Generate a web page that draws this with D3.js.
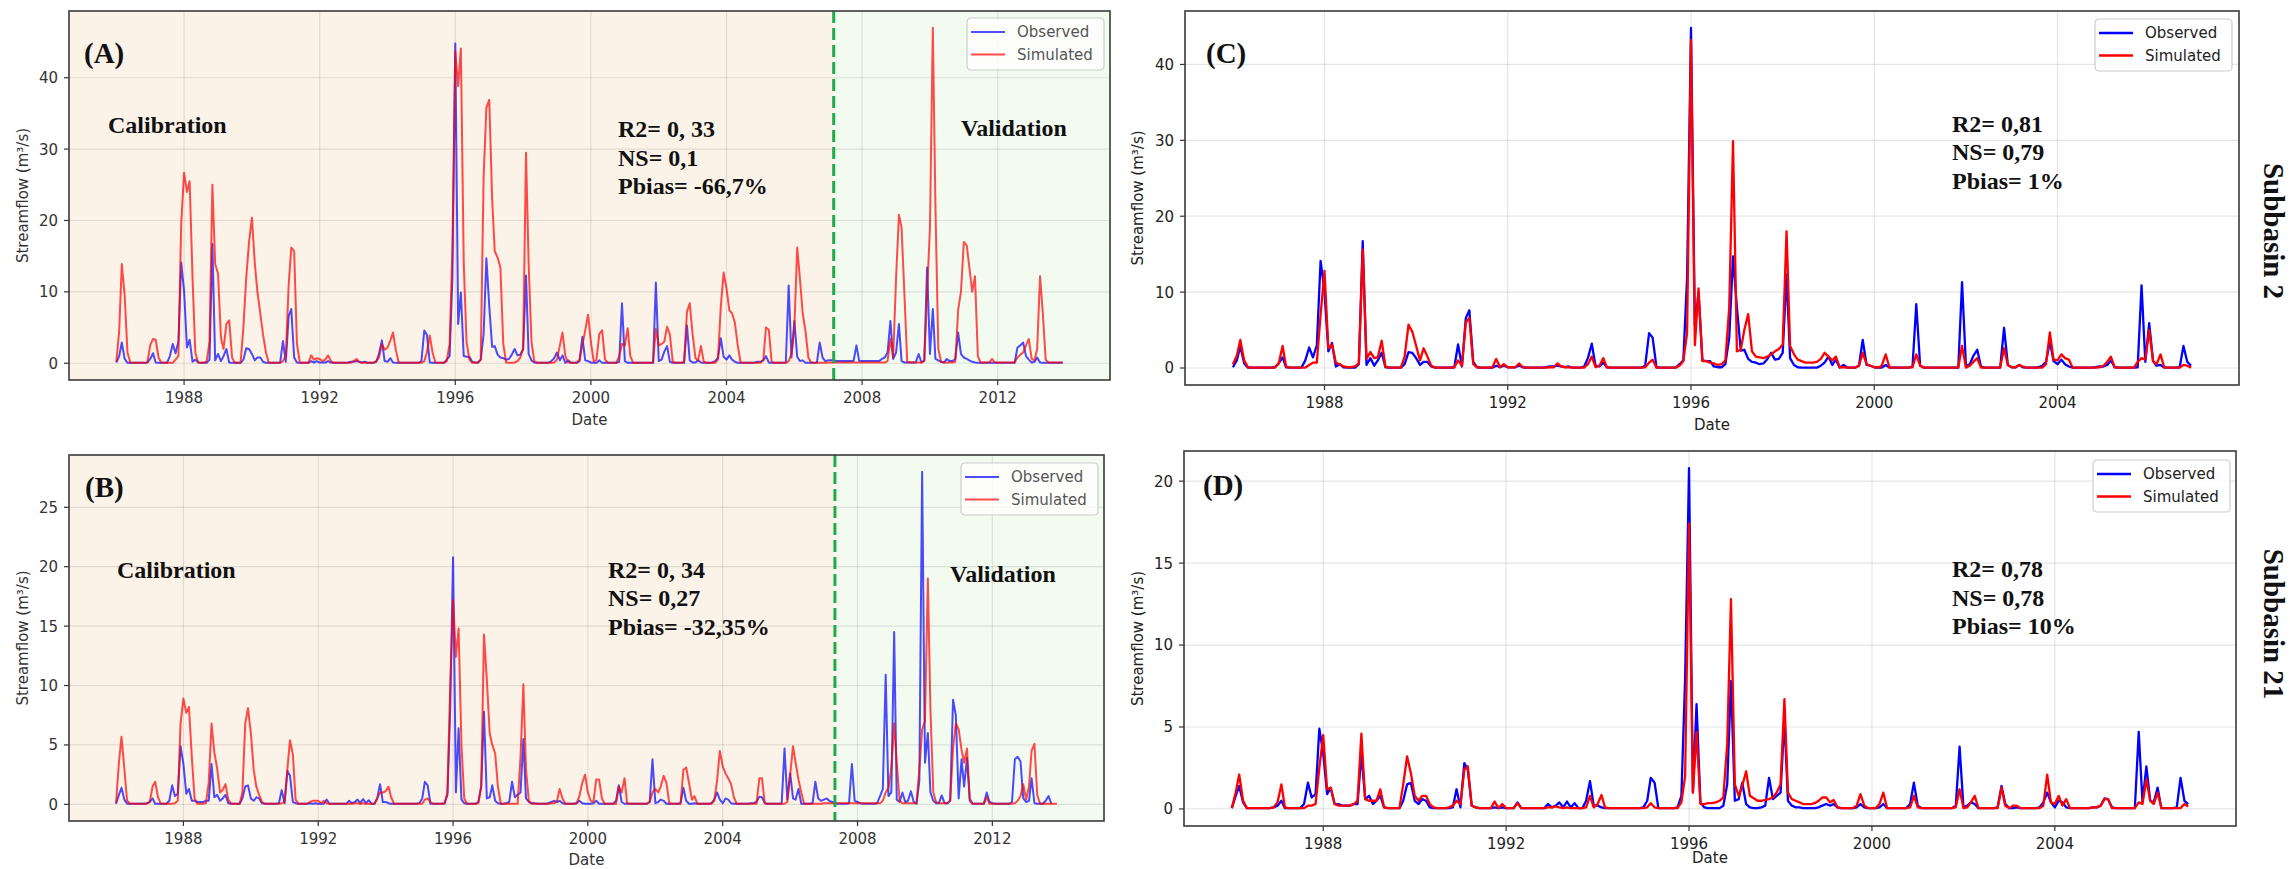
<!DOCTYPE html>
<html lang="en">
<head>
<meta charset="UTF-8">
<title>Observed vs simulated streamflow</title>
<script src="https://d3js.org/d3.v7.min.js"></script>
<style>
  body { margin: 0; background: #fff; }
  svg text { font-family: "DejaVu Sans", sans-serif; }
  .serif { font-family: "Liberation Serif", "Times New Roman", serif; font-weight: bold; }
</style>
</head>
<body>
<div id="chart"></div>
<script>
// monthly streamflow (m3/s) from Jan 1986, one row per year

// subbasin 2, observed, 1986-2013
const obs2 = [
  [0.1, 1.0, 2.9, 0.6, 0.05, 0.05, 0.05, 0.05, 0.05, 0.05, 0.05, 0.1],
  [0.6, 1.4, 0.1, 0.05, 0.05, 0.05, 0.05, 1.0, 2.7, 1.4, 3.0, 14.1],
  [10.1, 2.2, 3.3, 0.2, 0.5, 0.1, 0.05, 0.05, 0.05, 0.5, 16.7, 0.4],
  [1.3, 0.3, 1.0, 2.0, 0.1, 0.05, 0.05, 0.05, 0.05, 0.5, 2.1, 2.0],
  [1.3, 0.4, 0.8, 0.8, 0.2, 0.05, 0.05, 0.05, 0.05, 0.05, 0.1, 3.1],
  [0.2, 6.6, 7.6, 0.8, 0.1, 0.05, 0.05, 0.05, 0.05, 0.3, 0.1, 0.3],
  [0.1, 0.1, 0.1, 0.3, 0.1, 0.05, 0.05, 0.05, 0.05, 0.05, 0.1, 0.2],
  [0.2, 0.3, 0.2, 0.1, 0.2, 0.05, 0.05, 0.05, 0.2, 1.3, 3.2, 0.3],
  [0.2, 0.7, 0.1, 0.05, 0.05, 0.05, 0.05, 0.05, 0.05, 0.05, 0.05, 0.05],
  [0.3, 4.6, 4.0, 0.1, 0.05, 0.05, 0.05, 0.05, 0.05, 0.5, 1.0, 12],
  [44.8, 5.5, 9.9, 1.0, 0.9, 0.9, 0.2, 0.1, 0.1, 0.5, 4.0, 14.7],
  [8, 2.3, 2.4, 1.2, 0.8, 0.7, 0.5, 0.6, 1.2, 2.0, 1.1, 1.2],
  [2.0, 12.3, 1.3, 0.4, 0.1, 0.05, 0.05, 0.05, 0.05, 0.05, 0.3, 0.7],
  [1.5, 0.4, 1.1, 0.05, 0.4, 0.05, 0.05, 0.05, 0.3, 3.7, 0.4, 0.3],
  [0.1, 0.05, 0.05, 0.4, 0.05, 0.05, 0.05, 0.05, 0.05, 0.05, 0.2, 8.4],
  [0.3, 0.05, 0.05, 0.05, 0.05, 0.05, 0.05, 0.05, 0.05, 0.05, 0.05, 11.3],
  [0.3, 0.5, 1.6, 2.4, 0.2, 0.05, 0.05, 0.05, 0.05, 0.05, 5.3, 0.4],
  [0.1, 0.1, 0.4, 0.1, 0.05, 0.05, 0.05, 0.1, 0.3, 0.8, 3.5, 0.9],
  [0.5, 1.1, 0.5, 0.2, 0.05, 0.05, 0.05, 0.05, 0.05, 0.05, 0.1, 0.2],
  [0.2, 0.4, 1.0, 0.1, 0.05, 0.05, 0.05, 0.05, 0.05, 0.1, 10.9, 0.8],
  [5.9, 0.9, 0.3, 0.4, 0.05, 0.05, 0.05, 0.05, 0.1, 2.9, 0.8, 0.3],
  [0.4, 0.4, 0.4, 0.3, 0.3, 0.3, 0.3, 0.3, 0.3, 0.3, 2.5, 0.3],
  [0.3, 0.3, 0.3, 0.3, 0.3, 0.3, 0.3, 0.6, 0.8, 1.5, 5.9, 0.6],
  [1.5, 5.5, 0.3, 0.1, 0.1, 0.1, 0.1, 0.1, 1.3, 0.1, 0.4, 13.4],
  [1.3, 7.6, 0.6, 0.4, 0.2, 0.1, 0.6, 0.3, 0.3, 0.6, 4.3, 1.3],
  [0.8, 0.6, 0.4, 0.2, 0.1, 0.05, 0.05, 0.05, 0.05, 0.05, 0.05, 0.05],
  [0.05, 0.05, 0.05, 0.05, 0.05, 0.05, 0.05, 2.2, 2.5, 2.9, 1.0, 0.5],
  [0.1, 0.2, 0.8, 0.1, 0.05, 0.05, 0.05, 0.05, 0.05, 0.05, 0.05, 0.05]
];

// subbasin 21, observed, 1986 - Oct 2013
const obs21 = [
  [0.05, 0.8, 1.4, 0.4, 0.05, 0.05, 0.05, 0.05, 0.05, 0.05, 0.05, 0.1],
  [0.2, 0.5, 0.05, 0.05, 0.05, 0.05, 0.05, 0.3, 1.6, 0.7, 0.9, 4.9],
  [3.4, 0.9, 1.3, 0.3, 0.3, 0.2, 0.2, 0.2, 0.3, 0.3, 3.4, 0.6],
  [0.8, 0.3, 0.5, 0.8, 0.1, 0.05, 0.05, 0.05, 0.05, 0.5, 1.5, 1.6],
  [0.5, 0.3, 0.6, 0.5, 0.1, 0.05, 0.05, 0.05, 0.05, 0.05, 0.1, 1.2],
  [0.1, 2.8, 2.4, 0.2, 0.1, 0.05, 0.05, 0.05, 0.05, 0.1, 0.05, 0.1],
  [0.05, 0.05, 0.05, 0.4, 0.05, 0.05, 0.05, 0.05, 0.05, 0.05, 0.05, 0.3],
  [0.1, 0.2, 0.4, 0.1, 0.45, 0.1, 0.35, 0.05, 0.05, 0.5, 1.7, 0.2],
  [0.2, 0.1, 0.05, 0.05, 0.05, 0.05, 0.05, 0.05, 0.05, 0.05, 0.05, 0.05],
  [0.1, 0.5, 1.9, 1.6, 0.05, 0.05, 0.05, 0.05, 0.05, 0.1, 0.8, 8.0],
  [20.8, 1.0, 6.4, 0.4, 0.1, 0.05, 0.05, 0.05, 0.05, 0.2, 1.5, 7.8],
  [0.5, 0.6, 1.6, 0.3, 0.1, 0.05, 0.05, 0.1, 0.2, 1.9, 0.6, 0.8],
  [1.0, 5.5, 0.5, 0.2, 0.1, 0.1, 0.05, 0.05, 0.05, 0.05, 0.1, 0.2],
  [0.3, 0.2, 0.3, 0.1, 0.05, 0.05, 0.05, 0.05, 0.1, 0.3, 0.1, 0.05],
  [0.05, 0.05, 0.1, 0.3, 0.05, 0.05, 0.05, 0.05, 0.05, 0.05, 0.3, 1.6],
  [0.2, 0.05, 0.05, 0.05, 0.05, 0.05, 0.05, 0.05, 0.05, 0.05, 0.2, 3.8],
  [0.1, 0.2, 0.4, 0.3, 0.05, 0.05, 0.05, 0.05, 0.05, 0.1, 1.4, 0.3],
  [0.05, 0.05, 0.1, 0.05, 0.05, 0.05, 0.05, 0.05, 0.1, 0.4, 1.0, 0.4],
  [0.1, 0.5, 0.4, 0.1, 0.05, 0.05, 0.05, 0.05, 0.05, 0.05, 0.1, 0.1],
  [0.2, 0.65, 0.6, 0.1, 0.05, 0.05, 0.05, 0.05, 0.05, 0.05, 4.7, 0.4],
  [2.6, 0.5, 0.4, 1.3, 0.05, 0.05, 0.05, 0.05, 0.1, 1.9, 0.5, 0.3],
  [0.4, 0.5, 0.3, 0.2, 0.1, 0.05, 0.05, 0.05, 0.05, 0.1, 3.4, 0.3],
  [0.2, 0.1, 0.05, 0.05, 0.05, 0.05, 0.05, 0.1, 0.7, 1.3, 10.9, 0.7],
  [1.0, 14.5, 0.4, 0.2, 1.0, 0.2, 0.3, 1.1, 0.2, 0.05, 2.0, 28],
  [3.5, 6, 1.0, 0.3, 0.1, 0.1, 0.75, 0.1, 0.1, 0.3, 8.8, 7.5],
  [0.5, 3.8, 1.5, 3.9, 0.3, 0.05, 0.05, 0.05, 0.05, 0.05, 1.0, 0.2],
  [0.1, 0.05, 0.05, 0.05, 0.05, 0.05, 0.05, 0.2, 3.8, 4.0, 3.6, 0.5],
  [0.2, 0.3, 2.2, 0.1, 0.05, 0.05, 0.05, 0.3, 0.7, 0.05]
];

// (A) subbasin 2, simulated before calibration, 1986-2013
const simA = [
  [0.2, 4.5, 13.9, 9.5, 1.5, 0.1, 0.05, 0.05, 0.05, 0.05, 0.05, 0.1],
  [2.5, 3.4, 3.3, 0.8, 0.05, 0.05, 0.05, 0.05, 0.05, 0.5, 1.0, 19.5],
  [26.7, 24.0, 25.5, 12, 1.5, 0.1, 0.05, 0.05, 0.3, 3, 25, 13.9],
  [12.5, 3.6, 2.0, 5.5, 6.0, 0.8, 0.05, 0.05, 0.1, 5, 12, 17],
  [20.4, 14, 10, 7, 4, 1.5, 0.1, 0.05, 0.05, 0.05, 0.05, 0.3],
  [1.0, 11, 16.2, 15.7, 2.7, 0.1, 0.05, 0.05, 0.05, 1.1, 0.5, 0.7],
  [0.6, 0.3, 0.5, 1.1, 0.3, 0.05, 0.05, 0.05, 0.05, 0.05, 0.05, 0.05],
  [0.3, 0.6, 0.2, 0.05, 0.05, 0.05, 0.05, 0.05, 0.3, 0.8, 2.7, 1.9],
  [2.2, 3.2, 4.3, 1.8, 0.1, 0.05, 0.05, 0.05, 0.05, 0.05, 0.05, 0.05],
  [0.05, 0.3, 1.5, 3.9, 1.5, 0.1, 0.05, 0.05, 0.05, 0.3, 2.7, 16],
  [43.7, 38.8, 44.1, 14, 3, 0.5, 0.05, 0.05, 0.05, 0.5, 26, 35.8],
  [36.9, 23, 15.7, 14.8, 13.4, 2.7, 0.1, 0.05, 0.05, 0.1, 0.3, 0.8],
  [2, 29.5, 14, 3, 0.3, 0.05, 0.05, 0.05, 0.05, 0.05, 0.05, 0.1],
  [0.5, 2.5, 4.3, 1.0, 0.1, 0.05, 0.05, 0.1, 0.5, 2.5, 4.6, 6.8],
  [3.0, 0.2, 0.5, 4.1, 4.6, 0.5, 0.1, 0.05, 0.05, 0.05, 1.0, 2.7],
  [2.5, 4.9, 1.0, 0.05, 0.05, 0.05, 0.05, 0.05, 0.05, 0.05, 0.1, 4.8],
  [2.5, 2.7, 3, 5.1, 4.0, 0.2, 0.05, 0.05, 0.05, 0.2, 7.2, 8.4],
  [4, 0.7, 0.4, 2.4, 0.2, 0.05, 0.05, 0.05, 0.05, 0.5, 8, 12.7],
  [10.5, 7.4, 7.0, 5.6, 2.5, 0.1, 0.05, 0.05, 0.05, 0.05, 0.05, 0.05],
  [0.05, 0.5, 5.0, 4.7, 0.2, 0.05, 0.05, 0.05, 0.05, 0.05, 0.3, 1.3],
  [5, 16.2, 12, 7, 4.5, 0.8, 0.1, 0.05, 0.05, 0.05, 0.05, 0.05],
  [0.1, 0.1, 0.1, 0.1, 0.1, 0.1, 0.1, 0.1, 0.1, 0.1, 0.1, 0.1],
  [0.1, 0.1, 0.1, 0.1, 0.1, 0.1, 0.1, 0.1, 0.1, 0.3, 3.4, 0.8],
  [12, 20.8, 19, 9.7, 0.2, 0.1, 0.1, 0.1, 0.1, 0.1, 0.3, 9.7],
  [19, 47, 22, 2, 0.2, 0.1, 0.1, 0.1, 0.1, 0.2, 7.5, 10],
  [17, 16.5, 13.5, 10, 12.2, 1, 0.1, 0.1, 0.1, 0.1, 0.6, 0.1],
  [0.1, 0.1, 0.1, 0.1, 0.1, 0.1, 0.1, 0.8, 1.2, 1.5, 2.5, 3.4],
  [0.6, 0.4, 2, 12.2, 7, 0.5, 0.1, 0.1, 0.1, 0.1, 0.1, 0.1]
];

// (B) subbasin 21, simulated before calibration, 1986-2013
const simB = [
  [0.1, 3.5, 5.7, 3.0, 0.3, 0.05, 0.05, 0.05, 0.05, 0.05, 0.05, 0.05],
  [0.2, 1.5, 1.9, 0.6, 0.05, 0.05, 0.05, 0.05, 0.05, 0.1, 0.3, 6.8],
  [8.9, 7.7, 8.2, 4, 0.5, 0.05, 0.05, 0.05, 0.1, 1.8, 6.8, 4.4],
  [3.0, 1.0, 1.2, 1.7, 0.4, 0.05, 0.05, 0.05, 0.05, 1.0, 6.8, 8.1],
  [6, 2.9, 1.5, 0.8, 0.2, 0.05, 0.05, 0.05, 0.05, 0.05, 0.05, 0.1],
  [0.2, 3.0, 5.4, 4.2, 0.4, 0.05, 0.05, 0.05, 0.05, 0.2, 0.3, 0.3],
  [0.3, 0.1, 0.3, 0.1, 0.05, 0.05, 0.05, 0.05, 0.05, 0.05, 0.05, 0.05],
  [0.05, 0.1, 0.1, 0.05, 0.1, 0.05, 0.05, 0.05, 0.05, 0.5, 1.0, 1.0],
  [1.1, 1.5, 0.6, 0.05, 0.05, 0.05, 0.05, 0.05, 0.05, 0.05, 0.05, 0.05],
  [0.05, 0.05, 0.4, 0.5, 0.2, 0.05, 0.05, 0.05, 0.05, 0.05, 1.0, 10],
  [17.2, 12.4, 14.8, 5, 0.5, 0.05, 0.05, 0.05, 0.05, 0.1, 1.5, 14.3],
  [10.5, 6, 5, 4.3, 1.5, 0.05, 0.05, 0.05, 0.05, 0.05, 0.05, 0.05],
  [4, 10.1, 3, 0.3, 0.05, 0.05, 0.05, 0.05, 0.05, 0.05, 0.05, 0.1],
  [0.1, 0.3, 1.3, 0.5, 0.05, 0.05, 0.05, 0.05, 0.1, 0.7, 1.8, 2.5],
  [1.0, 0.3, 0.2, 2.1, 2.1, 0.5, 0.05, 0.05, 0.05, 0.05, 0.05, 1.5],
  [1.0, 2.2, 0.1, 0.05, 0.05, 0.05, 0.05, 0.05, 0.05, 0.05, 0.2, 1.0],
  [1.3, 1.0, 1.5, 2.4, 1.8, 0.1, 0.05, 0.05, 0.05, 0.05, 2.9, 3.1],
  [1.8, 0.4, 0.7, 0.05, 0.05, 0.05, 0.05, 0.05, 0.05, 0.3, 2.0, 4.5],
  [3.2, 2.6, 2.2, 1.7, 0.6, 0.05, 0.05, 0.05, 0.05, 0.05, 0.05, 0.05],
  [0.05, 2.2, 2.2, 0.1, 0.05, 0.05, 0.05, 0.05, 0.05, 0.05, 0.05, 0.2],
  [2.5, 4.9, 3.5, 2.1, 1.0, 0.05, 0.05, 0.05, 0.05, 0.05, 0.05, 0.05],
  [0.1, 0.1, 0.1, 0.1, 0.1, 0.1, 0.1, 0.1, 0.1, 0.1, 0.1, 0.1],
  [0.1, 0.1, 0.1, 0.1, 0.1, 0.1, 0.1, 0.1, 0.1, 0.3, 1.0, 1.4],
  [3.0, 6.8, 3.5, 0.3, 0.1, 0.1, 0.1, 0.1, 0.1, 0.1, 3.0, 6.3],
  [7.0, 19.0, 8.0, 1.0, 0.2, 0.1, 0.1, 0.1, 0.1, 0.3, 4.7, 6.8],
  [6.3, 4.6, 3.5, 4.7, 0.5, 0.05, 0.05, 0.05, 0.05, 0.05, 0.6, 0.05],
  [0.05, 0.05, 0.05, 0.05, 0.05, 0.05, 0.05, 0.05, 0.1, 0.3, 0.7, 1.7],
  [0.4, 1.5, 4.5, 5.1, 0.8, 0.05, 0.05, 0.05, 0.05, 0.05, 0.05, 0.05]
];

// (C) subbasin 2, simulated after calibration, 1986-2006
const simC = [
  [0.5, 1.6, 3.7, 1.0, 0.1, 0.05, 0.05, 0.05, 0.05, 0.05, 0.05, 0.05],
  [0.6, 2.9, 0.2, 0.05, 0.05, 0.05, 0.05, 0.05, 0.4, 0.7, 0.7, 7],
  [12.8, 2.6, 3.1, 0.7, 0.5, 0.2, 0.1, 0.1, 0.2, 0.6, 15.6, 1.2],
  [2.1, 1.3, 1.4, 3.6, 0.2, 0.05, 0.05, 0.05, 0.05, 1.5, 5.7, 4.8],
  [2.9, 1.0, 2.6, 1.5, 0.3, 0.05, 0.05, 0.05, 0.05, 0.05, 0.1, 1.0],
  [0.3, 6.0, 6.6, 0.5, 0.1, 0.05, 0.05, 0.05, 0.1, 1.2, 0.1, 0.5],
  [0.1, 0.1, 0.1, 0.6, 0.1, 0.05, 0.05, 0.05, 0.05, 0.05, 0.05, 0.1],
  [0.1, 0.6, 0.2, 0.1, 0.1, 0.05, 0.05, 0.05, 0.05, 0.5, 1.5, 0.1],
  [0.3, 1.3, 0.1, 0.05, 0.05, 0.05, 0.05, 0.05, 0.05, 0.05, 0.05, 0.05],
  [0.1, 0.7, 1.1, 0.05, 0.05, 0.05, 0.05, 0.05, 0.05, 0.3, 0.9, 4.6],
  [43.2, 3.0, 10.5, 0.9, 0.9, 0.7, 0.6, 0.4, 0.5, 1.0, 8, 29.9],
  [2.2, 2.4, 5.0, 7.1, 2.2, 1.5, 1.4, 1.3, 1.5, 1.8, 2.2, 2.5],
  [3.1, 18.0, 2.9, 1.8, 1.1, 0.9, 0.7, 0.7, 0.7, 0.8, 1.2, 2.0],
  [1.5, 1.0, 1.5, 0.1, 0.1, 0.05, 0.05, 0.05, 0.3, 2.0, 0.5, 0.3],
  [0.1, 0.05, 0.3, 1.8, 0.1, 0.05, 0.05, 0.05, 0.05, 0.05, 0.1, 1.8],
  [0.3, 0.05, 0.05, 0.05, 0.05, 0.05, 0.05, 0.05, 0.05, 0.05, 0.1, 2.9],
  [0.05, 0.3, 0.8, 1.3, 0.05, 0.05, 0.05, 0.05, 0.05, 0.1, 2.6, 0.4],
  [0.1, 0.1, 0.4, 0.2, 0.05, 0.05, 0.05, 0.05, 0.05, 0.5, 4.7, 1.1],
  [1.0, 1.8, 1.3, 1.1, 0.05, 0.05, 0.05, 0.05, 0.05, 0.05, 0.05, 0.1],
  [0.3, 0.8, 1.5, 0.1, 0.05, 0.05, 0.05, 0.05, 0.05, 0.8, 1.3, 1.1],
  [5.0, 0.9, 0.5, 1.8, 0.1, 0.05, 0.05, 0.05, 0.05, 0.4, 0.3, 0.05]
];

// (D) subbasin 21, simulated after calibration, 1986-2006
const simD = [
  [0.05, 1.0, 2.1, 0.5, 0.05, 0.05, 0.05, 0.05, 0.05, 0.05, 0.05, 0.1],
  [0.4, 1.5, 0.1, 0.05, 0.05, 0.05, 0.05, 0.05, 0.2, 0.2, 0.3, 2.5],
  [4.5, 1.2, 1.3, 0.3, 0.2, 0.2, 0.2, 0.2, 0.3, 0.5, 4.6, 0.6],
  [0.5, 0.5, 0.5, 1.2, 0.1, 0.05, 0.05, 0.05, 0.05, 1.5, 3.2, 2.2],
  [0.8, 0.5, 0.8, 0.8, 0.3, 0.1, 0.05, 0.05, 0.05, 0.1, 0.2, 0.5],
  [0.3, 2.4, 2.6, 0.2, 0.1, 0.05, 0.05, 0.05, 0.05, 0.45, 0.05, 0.3],
  [0.05, 0.05, 0.05, 0.35, 0.05, 0.05, 0.05, 0.05, 0.05, 0.05, 0.05, 0.1],
  [0.1, 0.15, 0.1, 0.05, 0.1, 0.05, 0.05, 0.05, 0.05, 0.1, 0.8, 0.1],
  [0.3, 0.85, 0.1, 0.05, 0.05, 0.05, 0.05, 0.05, 0.05, 0.05, 0.05, 0.05],
  [0.05, 0.1, 0.35, 0.1, 0.05, 0.05, 0.05, 0.05, 0.05, 0.05, 0.4, 2.0],
  [17.4, 1.0, 4.7, 0.3, 0.3, 0.35, 0.35, 0.4, 0.5, 0.7, 4.0, 12.8],
  [1.5, 0.8, 1.4, 2.3, 0.8, 0.65, 0.5, 0.5, 0.55, 0.6, 0.7, 1.0],
  [1.5, 6.7, 1.0, 0.6, 0.5, 0.4, 0.3, 0.3, 0.3, 0.35, 0.5, 0.7],
  [0.7, 0.4, 0.55, 0.1, 0.05, 0.05, 0.05, 0.05, 0.2, 0.9, 0.2, 0.05],
  [0.05, 0.05, 0.3, 1.0, 0.05, 0.05, 0.05, 0.05, 0.05, 0.05, 0.1, 0.8],
  [0.1, 0.05, 0.05, 0.05, 0.05, 0.05, 0.05, 0.05, 0.05, 0.05, 0.1, 1.2],
  [0.05, 0.1, 0.4, 0.8, 0.05, 0.05, 0.05, 0.05, 0.05, 0.05, 1.3, 0.2],
  [0.05, 0.2, 0.2, 0.05, 0.05, 0.05, 0.05, 0.05, 0.05, 0.2, 2.1, 0.4],
  [0.3, 0.8, 0.2, 0.6, 0.05, 0.05, 0.05, 0.05, 0.05, 0.05, 0.1, 0.1],
  [0.2, 0.6, 0.6, 0.05, 0.05, 0.05, 0.05, 0.05, 0.05, 0.05, 0.4, 0.3],
  [1.8, 0.5, 0.3, 1.0, 0.05, 0.05, 0.05, 0.05, 0.05, 0.05, 0.3, 0.15]
];

const seriesNames = ["Observed", "Simulated"];
const xTicksLong = [1988, 1992, 1996, 2000, 2004, 2008, 2012];
const xTicksShort = [1988, 1992, 1996, 2000, 2004];
const statsA = ["R2= 0, 33", "NS= 0,1", "Pbias= -66,7%"];
const statsB = ["R2= 0, 34", "NS= 0,27", "Pbias= -32,35%"];
const statsC = ["R2= 0,81", "NS= 0,79", "Pbias= 1%"];
const statsD = ["R2= 0,78", "NS= 0,78", "Pbias= 10%"];
const basinLabels = ["Subbasin 2", "Subbasin 21"];

const W = 2290, H = 869;
const start = new Date(1986, 0, 1);

const svg = d3.select("#chart").append("svg")
    .attr("width", W).attr("height", H)
    .style("display", "block");

svg.append("rect").attr("width", W).attr("height", H).attr("fill", "#fff");

const panels = [
  { tag: "(A)", obs: obs2.flat(), sim: simA.flat(), box: [69, 11, 1110, 380],
    yStep: 10, xTicks: xTicksLong, faded: true, split: new Date(2007, 2, 1),
    tagAt: [84, 63], calibAt: [108, 133], validAt: [961, 136], stats: statsA, statsAt: [618, 137],
    legendAt: [967, 18], yLabelX: 28, dateY: 425 },
  { tag: "(B)", obs: obs21.flat(), sim: simB.flat(), box: [69, 455, 1104, 821],
    yStep: 5, xTicks: xTicksLong, faded: true, split: new Date(2007, 4, 1),
    tagAt: [85, 497], calibAt: [117, 578], validAt: [950, 582], stats: statsB, statsAt: [608, 577.5],
    legendAt: [961, 463], yLabelX: 28, dateY: 865 },
  { tag: "(C)", obs: obs2.flat().slice(0, 252), sim: simC.flat(), box: [1185, 11, 2239, 385],
    yStep: 10, xTicks: xTicksShort, faded: false,
    tagAt: [1206, 63], stats: statsC, statsAt: [1952, 131.7],
    legendAt: [2095, 19], yLabelX: 1143, dateY: 430 },
  { tag: "(D)", obs: obs21.flat().slice(0, 252), sim: simD.flat(), box: [1184, 451, 2236, 826],
    yStep: 5, xTicks: xTicksShort, faded: false,
    tagAt: [1203, 495], stats: statsD, statsAt: [1952, 577.3],
    legendAt: [2093, 460], yLabelX: 1143, dateY: 863 }
];

panels.forEach(drawPanel);

// basin labels on the right, reading top to bottom
[[2264, 231], [2264, 624]].forEach((p, i) => {
  svg.append("text")
      .attr("class", "serif")
      .attr("transform", `translate(${p[0]},${p[1]}) rotate(90)`)
      .attr("text-anchor", "middle")
      .attr("font-size", 29)
      .attr("fill", "#111")
      .text(basinLabels[i]);
});

function drawPanel(p) {
  const [x0, y0, x1, y1] = p.box;
  const n = Math.max(p.obs.length, p.sim.length);
  const first = start, last = d3.timeMonth.offset(start, n - 1);
  const span = last - first;
  const x = d3.scaleTime()
      .domain([new Date(+first - span * 0.05), new Date(+last + span * 0.05)])
      .range([x0, x1]);
  const vmax = d3.max(p.obs.concat(p.sim));
  const y = d3.scaleLinear().domain([-vmax * 0.05, vmax * 1.05]).range([y1, y0]);

  const g = svg.append("g");
  const blue = "#0000ff", red = "#ff0000";
  const alpha = p.faded ? 0.7 : 1;
  const lw = p.faded ? 2 : 2.3;

  // calibration / validation shading
  if (p.split) {
    const xs = x(p.split);
    g.append("rect").attr("x", x0).attr("y", y0).attr("width", xs - x0).attr("height", y1 - y0)
        .attr("fill", "#fcf3e8");
    g.append("rect").attr("x", xs).attr("y", y0).attr("width", x1 - xs).attr("height", y1 - y0)
        .attr("fill", "#f3fbf1");
  }

  const yTicks = d3.range(0, vmax + 0.001, p.yStep);
  const xTickDates = p.xTicks.map(yr => new Date(yr, 0, 1));

  // grid
  g.selectAll(".gx").data(xTickDates).join("line")
      .attr("x1", d => x(d)).attr("x2", d => x(d)).attr("y1", y0).attr("y2", y1)
      .attr("stroke", "#000").attr("stroke-opacity", 0.1).attr("stroke-width", 1.2);
  g.selectAll(".gy").data(yTicks).join("line")
      .attr("x1", x0).attr("x2", x1).attr("y1", d => y(d)).attr("y2", d => y(d))
      .attr("stroke", "#000").attr("stroke-opacity", 0.1).attr("stroke-width", 1.2);

  // series
  const line = d3.line()
      .x((d, i) => x(d3.timeMonth.offset(start, i)))
      .y(d => y(d));
  [[p.obs, blue], [p.sim, red]].forEach(([vals, col]) => {
    g.append("path").datum(vals)
        .attr("d", line)
        .attr("fill", "none")
        .attr("stroke", col)
        .attr("stroke-opacity", alpha)
        .attr("stroke-width", lw)
        .attr("stroke-linejoin", "round");
  });

  if (p.split) {
    const xs = x(p.split);
    g.append("line").attr("x1", xs).attr("x2", xs).attr("y1", y0).attr("y2", y1)
        .attr("stroke", "#1faa50").attr("stroke-width", 3).attr("stroke-dasharray", "12,5");
  }

  // frame
  g.append("rect").attr("x", x0).attr("y", y0).attr("width", x1 - x0).attr("height", y1 - y0)
      .attr("fill", "none").attr("stroke", "#3a3a3a").attr("stroke-width", 1.6);

  // ticks and tick labels
  const tc = p.faded ? "#333" : "#222";
  g.selectAll(".tx").data(xTickDates).join("line")
      .attr("x1", d => x(d)).attr("x2", d => x(d)).attr("y1", y1).attr("y2", y1 + 5)
      .attr("stroke", "#333").attr("stroke-width", 1.2);
  g.selectAll(".lx").data(xTickDates).join("text")
      .attr("x", d => x(d)).attr("y", y1 + 23)
      .attr("text-anchor", "middle").attr("font-size", 15).attr("fill", tc)
      .text(d => d.getFullYear());
  g.selectAll(".ty").data(yTicks).join("line")
      .attr("x1", x0 - 5).attr("x2", x0).attr("y1", d => y(d)).attr("y2", d => y(d))
      .attr("stroke", "#333").attr("stroke-width", 1.2);
  g.selectAll(".ly").data(yTicks).join("text")
      .attr("x", x0 - 11).attr("y", d => y(d)).attr("dy", "0.36em")
      .attr("text-anchor", "end").attr("font-size", 15).attr("fill", tc)
      .text(d => d);

  // axis labels
  g.append("text").attr("x", (x0 + x1) / 2).attr("y", p.dateY)
      .attr("text-anchor", "middle").attr("font-size", 15).attr("fill", tc).text("Date");
  g.append("text")
      .attr("transform", `translate(${p.yLabelX},${(y0 + y1) / 2}) rotate(-90)`)
      .attr("text-anchor", "middle").attr("font-size", 15).attr("fill", tc)
      .text("Streamflow (m³/s)");

  // annotations
  g.append("text").attr("class", "serif").attr("x", p.tagAt[0]).attr("y", p.tagAt[1])
      .attr("font-size", 29).attr("fill", "#111").text(p.tag);
  if (p.calibAt) {
    g.append("text").attr("class", "serif").attr("x", p.calibAt[0]).attr("y", p.calibAt[1])
        .attr("font-size", 24).attr("fill", "#111").text("Calibration");
    g.append("text").attr("class", "serif").attr("x", p.validAt[0]).attr("y", p.validAt[1])
        .attr("font-size", 24).attr("fill", "#111").text("Validation");
  }
  p.stats.forEach((s, i) => {
    g.append("text").attr("class", "serif")
        .attr("x", p.statsAt[0]).attr("y", p.statsAt[1] + i * 28.5)
        .attr("font-size", 24).attr("fill", "#111").text(s);
  });

  // legend
  const [lx, ly] = p.legendAt;
  const lg = g.append("g").attr("transform", `translate(${lx},${ly})`);
  lg.append("rect").attr("width", 137).attr("height", 52).attr("rx", 4)
      .attr("fill", "#fff").attr("fill-opacity", 0.8)
      .attr("stroke", "#cccccc").attr("stroke-width", 1.2);
  [blue, red].forEach((col, i) => {
    const yy = 14 + i * 22.5;
    lg.append("line").attr("x1", 4).attr("x2", 38).attr("y1", yy).attr("y2", yy)
        .attr("stroke", col).attr("stroke-opacity", alpha).attr("stroke-width", p.faded ? 2 : 2.5);
    lg.append("text").attr("x", 50).attr("y", yy).attr("dy", "0.36em")
        .attr("font-size", 15).attr("fill", p.faded ? "#555" : "#222")
        .text(seriesNames[i]);
  });
}
</script>
</body>
</html>
